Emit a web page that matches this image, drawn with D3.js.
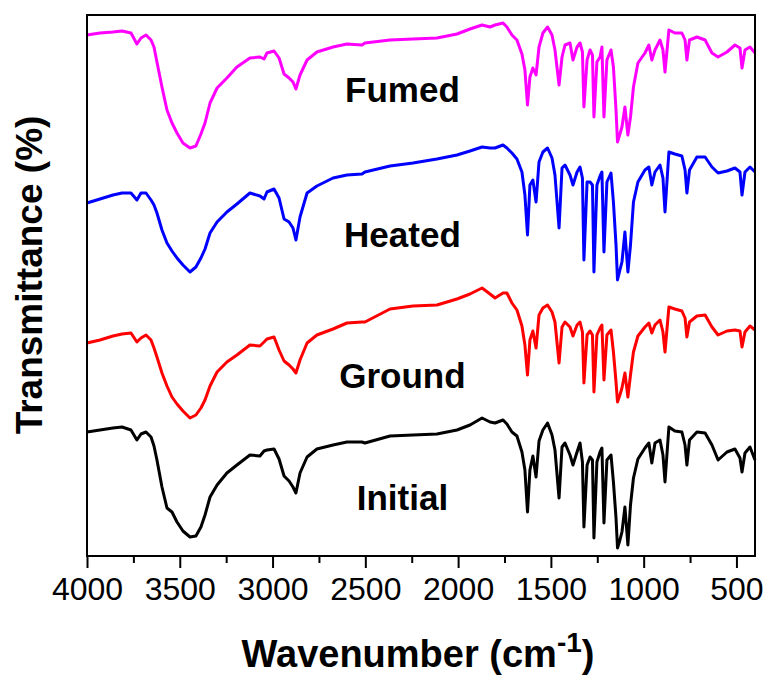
<!DOCTYPE html>
<html>
<head>
<meta charset="utf-8">
<script src="https://cdn.jsdelivr.net/npm/d3@7"></script>
<style>
  body { margin: 0; background: #fff; }
  text { font-family: "Liberation Sans", Arial, sans-serif; }
</style>
</head>
<body>
<div id="chart-area"></div>
<script>
/* FTIR spectra, offset stacked (transmittance in a.u.) */

// wavenumber grid (cm-1) shared by every spectrum
var wavenumbers = [
  4000, 3930, 3860, 3811, 3763, 3731, 3709, 3682, 3655, 3639,
  3623, 3596, 3569, 3542, 3515, 3483, 3445, 3413, 3386, 3364,
  3337, 3299, 3246, 3192, 3122, 3068, 3046, 3030, 2992, 2965,
  2938, 2911, 2890, 2874, 2852, 2814, 2761, 2674, 2599, 2518,
  2502, 2367, 2243, 2114, 2006, 1936, 1871, 1828, 1801, 1758,
  1737, 1710, 1683, 1656, 1640, 1626, 1613, 1597, 1580, 1564,
  1543, 1518, 1494, 1478, 1456, 1440, 1424, 1397, 1381, 1359,
  1343, 1330, 1322, 1305, 1289, 1276, 1268, 1252, 1235, 1225,
  1214, 1198, 1176, 1163, 1149, 1141, 1128, 1117, 1101, 1085,
  1071, 1055, 1031, 993, 972, 956, 939, 912, 896, 885,
  864, 832, 794, 777, 767, 753, 713, 669, 632, 599,
  551, 508, 481, 470, 454, 427, 400
];

var fumed = [
  52.1, 52.3, 52.4, 52.5, 52.3, 51.2, 51.8, 52.1, 51.6, 50.9,
  49.4, 46.9, 44.6, 43.3, 42.3, 41.3, 40.8, 41.0, 42.2, 43.3,
  45.3, 46.8, 47.8, 48.9, 49.8, 49.9, 49.7, 50.3, 50.5, 49.8,
  48.2, 47.8, 47.4, 46.7, 48.1, 49.6, 50.4, 50.9, 51.2, 51.1,
  51.3, 51.6, 51.7, 51.8, 52.2, 52.7, 53.1, 52.9, 53.1, 53.3,
  52.9, 52.1, 51.6, 50.2, 48.6, 45.1, 47.9, 48.8, 48.1, 50.9,
  52.3, 52.9, 52.1, 50.6, 47.1, 49.9, 51.1, 51.3, 49.6, 50.9,
  51.3, 50.4, 44.9, 49.6, 50.6, 50.1, 43.9, 49.4, 49.9, 50.9,
  43.9, 49.6, 50.6, 48.9, 44.6, 41.4, 42.2, 42.9, 44.9, 42.1,
  43.9, 46.9, 49.3, 50.3, 51.1, 49.6, 50.6, 51.6, 50.6, 48.4,
  52.6, 52.3, 52.3, 51.6, 49.6, 51.6, 51.9, 51.6, 50.3, 49.9,
  50.4, 51.1, 50.8, 48.8, 50.6, 50.9, 50.3
];

var heated = [
  35.3, 35.7, 36.1, 36.3, 36.3, 35.6, 36.3, 36.3, 35.6, 35.1,
  34.3, 32.6, 31.3, 30.5, 29.8, 29.1, 28.4, 28.9, 29.8, 30.7,
  32.3, 33.4, 34.4, 35.2, 36.3, 36.0, 35.7, 36.4, 36.7, 35.8,
  33.7, 33.4, 32.8, 31.6, 33.9, 36.3, 37.0, 37.8, 38.1, 38.2,
  38.4, 39.0, 39.3, 39.7, 40.1, 40.5, 40.9, 40.8, 40.8, 41.1,
  40.8, 40.3, 39.7, 38.4, 36.1, 32.1, 37.1, 37.6, 35.4, 39.4,
  40.4, 40.8, 39.8, 38.1, 32.8, 38.8, 39.1, 38.1, 37.1, 38.4,
  38.9, 37.8, 29.6, 37.4, 37.4, 37.1, 28.4, 37.1, 38.0, 38.4,
  30.4, 37.4, 38.3, 35.4, 31.1, 27.6, 28.6, 29.4, 32.4, 28.4,
  31.1, 35.4, 37.4, 38.6, 38.9, 37.1, 38.4, 39.1, 37.8, 34.4,
  40.4, 40.2, 40.0, 38.6, 36.3, 38.6, 39.9, 39.9, 38.9, 38.3,
  38.5, 38.8, 38.4, 36.1, 38.4, 38.9, 38.4
];

var ground = [
  21.3, 21.6, 22.0, 22.2, 22.3, 21.4, 21.8, 22.1, 21.6, 20.8,
  19.9, 18.3, 17.0, 15.9, 15.2, 14.5, 13.8, 14.1, 14.8, 15.6,
  17.0, 18.4, 19.4, 20.1, 21.1, 21.0, 21.4, 21.7, 21.9, 20.6,
  19.5, 19.1, 18.7, 18.3, 19.6, 21.3, 22.1, 22.7, 23.3, 23.4,
  23.4, 24.7, 25.0, 25.1, 25.7, 26.2, 26.8, 26.2, 25.8, 26.3,
  26.3, 25.3, 24.6, 23.0, 21.1, 18.1, 21.6, 22.5, 20.8, 24.1,
  24.8, 25.1, 24.4, 23.4, 19.3, 22.9, 23.4, 22.9, 22.0, 23.1,
  23.4, 22.4, 17.3, 22.1, 22.5, 22.1, 16.4, 22.1, 22.8, 23.1,
  17.6, 22.1, 22.6, 20.4, 17.4, 15.4, 16.1, 16.8, 18.3, 15.9,
  18.1, 20.4, 22.0, 22.9, 23.3, 22.3, 23.1, 23.6, 22.4, 20.4,
  24.9, 24.7, 24.5, 23.8, 21.9, 23.4, 24.0, 24.1, 22.9, 22.1,
  22.5, 22.6, 22.5, 20.9, 22.4, 23.0, 22.6
];

var initial = [
  12.4, 12.6, 12.8, 12.9, 12.6, 11.6, 12.2, 12.4, 11.9, 11.0,
  9.6, 6.9, 4.8, 4.4, 3.4, 2.5, 1.9, 2.0, 2.9, 4.1,
  5.9, 7.1, 8.3, 9.1, 10.1, 10.0, 10.5, 10.6, 10.7, 9.7,
  8.0, 7.5, 6.9, 6.3, 8.3, 9.9, 10.7, 11.1, 11.4, 11.4,
  11.3, 12.0, 12.1, 12.2, 12.6, 13.1, 13.8, 13.4, 13.3, 13.6,
  13.2, 12.4, 12.0, 10.4, 8.6, 4.4, 8.6, 10.0, 7.9, 11.5,
  12.6, 13.3, 12.1, 10.6, 5.8, 10.9, 11.3, 10.1, 9.1, 10.4,
  11.3, 9.4, 2.9, 9.1, 9.9, 9.6, 1.8, 9.4, 10.4, 10.8,
  3.3, 9.6, 10.1, 7.4, 3.8, 0.8, 1.6, 2.4, 4.9, 1.1,
  5.1, 7.8, 9.7, 10.8, 11.3, 9.3, 11.3, 11.6, 10.1, 7.4,
  12.9, 12.5, 12.4, 11.1, 9.1, 11.6, 12.4, 12.3, 11.1, 9.6,
  10.4, 10.7, 9.8, 8.4, 10.3, 10.9, 9.6
];

var seriesNames = ["Fumed", "Heated", "Ground", "Initial"];
var seriesValues = [fumed, heated, ground, initial];
var seriesColors = ["#ff00ff", "#0000ff", "#ff0000", "#000000"];

// x ticks
var majorTicks = [4000, 3500, 3000, 2500, 2000, 1500, 1000, 500];
var minorTicks = [3750, 3250, 2750, 2250, 1750, 1250, 750];

/* margin convention */
var margin = { top: 15, right: 11, bottom: 126, left: 87 };
var width = 766 - margin.left - margin.right;
var height = 682 - margin.top - margin.bottom;

var svg = d3.select("#chart-area").append("svg")
  .attr("width", 766)
  .attr("height", 682);

var g = svg.append("g")
  .attr("transform", "translate(" + margin.left + "," + margin.top + ")");

/* scales */
var x = d3.scaleLinear()
  .domain([4000, 400])
  .range([0, width]);

var y = d3.scaleLinear()
  .domain([0, 54.1])
  .range([height, 0]);

/* spectra */
var line = d3.line()
  .x(function(d, i) { return x(wavenumbers[i]); })
  .y(function(d) { return y(d); });

g.selectAll("path.spectrum")
  .data(seriesValues)
  .enter()
  .append("path")
    .attr("class", "spectrum")
    .attr("fill", "none")
    .attr("stroke", function(d, i) { return seriesColors[i]; })
    .attr("stroke-width", 3)
    .attr("stroke-linejoin", "round")
    .attr("d", line);

/* sample labels, anchored in data units */
var labelWavenumber = 2300;
var labelLevels = [45.4, 30.9, 16.8, 4.6];

g.selectAll("text.sample")
  .data(seriesNames)
  .enter()
  .append("text")
    .attr("class", "sample")
    .attr("x", x(labelWavenumber))
    .attr("y", function(d, i) { return y(labelLevels[i]); })
    .attr("text-anchor", "middle")
    .attr("font-size", "35px")
    .attr("font-weight", "bold")
    .attr("fill", "#000")
    .text(function(d) { return d; });

/* frame */
g.append("rect")
  .attr("x", 0)
  .attr("y", 0)
  .attr("width", width)
  .attr("height", height)
  .attr("fill", "none")
  .attr("stroke", "#000")
  .attr("stroke-width", 2);

/* x axis */
var xAxisGroup = g.append("g")
  .attr("transform", "translate(0," + height + ")")
  .call(d3.axisBottom(x).tickValues(majorTicks).tickSize(12).tickFormat(d3.format("d")));

xAxisGroup.select(".domain").remove();
xAxisGroup.selectAll("line").attr("stroke-width", 2);
xAxisGroup.selectAll("text")
  .attr("y", 44)
  .attr("dy", null)
  .attr("font-size", "32px")
  .attr("font-family", "'Liberation Sans', Arial, sans-serif")
  .attr("fill", "#000");

var minorGroup = g.append("g")
  .attr("transform", "translate(0," + height + ")")
  .call(d3.axisBottom(x).tickValues(minorTicks).tickSize(7).tickFormat(""));
minorGroup.select(".domain").remove();
minorGroup.selectAll("line").attr("stroke-width", 2);

/* axis titles */
var xLabel = svg.append("text")
  .attr("x", 418)
  .attr("y", 667)
  .attr("text-anchor", "middle")
  .attr("font-size", "38px")
  .attr("font-weight", "bold");
xLabel.append("tspan").text("Wavenumber (cm");
xLabel.append("tspan").attr("dy", -15).attr("font-size", "28px").text("-1");
xLabel.append("tspan").attr("dy", 15).text(")");

svg.append("text")
  .attr("transform", "translate(42,275) rotate(-90)")
  .attr("text-anchor", "middle")
  .attr("font-size", "37px")
  .attr("font-weight", "bold")
  .text("Transmittance (%)");
</script>
</body>
</html>
